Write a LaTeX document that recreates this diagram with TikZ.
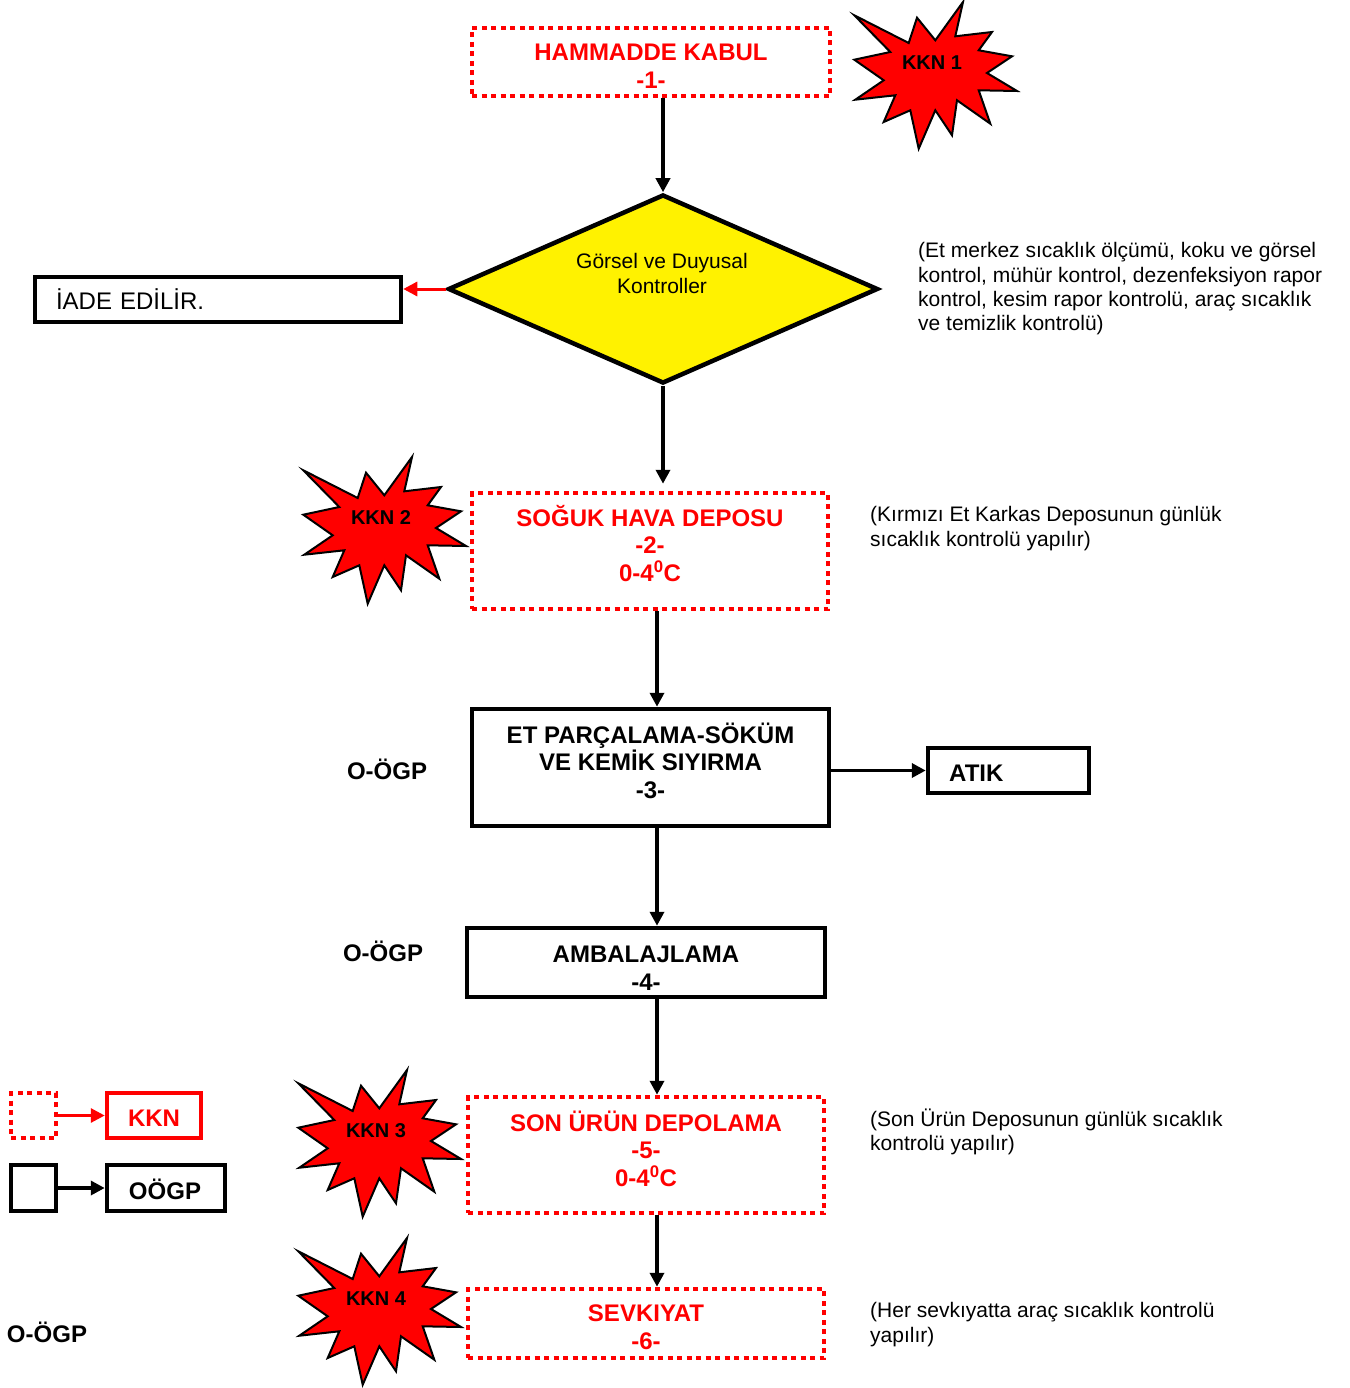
\documentclass[tikz,border=0pt]{standalone}
\usepackage{fontspec}
\setmainfont{Liberation Sans}
\usetikzlibrary{arrows.meta,shapes.geometric}
\begin{document}
\begin{tikzpicture}[x=1pt,y=-1pt,
  big/.style={font=\bfseries\fontsize{24}{27.6}\selectfont},
  redbox/.style={draw=red, line width=4.5pt, dash pattern=on 5pt off 4.5pt, inner sep=0pt},
  blackbox/.style={draw=black, line width=4.5pt, inner sep=0pt},
  redtxt/.style={text=red, big, align=center, inner sep=0pt},
  blacktxt/.style={big, align=center, inner sep=0pt},
  arr/.style={line width=3.5pt, -{Triangle[length=14pt,width=14pt]}},
  note/.style={font=\fontsize{21}{24.3}\selectfont, align=left, anchor=north west, inner sep=0pt},
  burstlbl/.style={font=\bfseries\fontsize{20}{24}\selectfont, inner sep=0pt},
  ogp/.style={big, inner sep=0pt},
  burst/.pic={\draw[fill=red, line width=2pt, line join=miter]
    (-77.7,-47.7) -- (-23.3,-20) -- (-15,-45.3) -- (3.3,-22.7) -- (31,-61) -- (23.3,-26.7)
    -- (60,-31) -- (46.7,-12.7) -- (80,-6.7) -- (55,10) -- (85,28) -- (46.7,27.3)
    -- (58.3,60.7) -- (25,37.3) -- (20,72.3) -- (3.3,47.3) -- (-13.3,85.7) -- (-21.7,47.3)
    -- (-48.3,59) -- (-36.7,32.3) -- (-76.7,36.7) -- (-48.3,17.3) -- (-77.7,-3.3) -- (-41.7,-11) -- cycle;}
]
\useasboundingbox (0,0) rectangle (1349,1388);

% step 1
\node[redbox, minimum width=358pt, minimum height=68pt] (ham) at (651,62) {};
\node[redtxt] (hamt) at (651,66.5) {HAMMADDE KABUL\\-1-};
\pic at (932,63) {burst};
\node[burstlbl] (kkn1) at (932,63) {KKN 1};

% decision
\node[diamond, draw, fill=yellow, line width=4.5pt, minimum width=430pt, minimum height=189pt, inner sep=0pt] (dia) at (663,289) {};
\node[font=\fontsize{21}{25}\selectfont, align=center, inner sep=0pt] (diatxt) at (662,273) {Görsel ve Duyusal\\Kontroller};
\draw[arr] (ham.south -| dia.north) -- (dia.north);

\node[draw, line width=4.5pt, minimum width=366pt, minimum height=45pt, inner xsep=21pt, inner ysep=0pt, text width=324pt, align=left, font=\fontsize{24}{27.6}\selectfont] (iade) at (218,299.5) {İADE EDİLİR.};
\draw[arr, red, line width=3pt] (dia.west) -- (dia.west -| iade.east);

\node[note] (note1) at (918,240.5) {\strut(Et merkez sıcaklık ölçümü, koku ve görsel\\kontrol, mühür kontrol, dezenfeksiyon rapor\\kontrol, kesim rapor kontrolü, araç sıcaklık\\ve temizlik kontrolü)};

% step 2
\node[redbox, minimum width=356pt, minimum height=116pt] (soguk) at (650,551) {};
\node[redtxt] (sogukt) at (650,543.5) {SOĞUK HAVA DEPOSU\\-2-\\0-4\textsuperscript{0}C};
\draw[arr, shorten >=7pt] (dia.south) -- (dia.south |- soguk.north);
\pic at (381,518) {burst};
\node[burstlbl] (kkn2) at (381,518) {KKN 2};
\node[note] (note2) at (870,504.5) {\strut(Kırmızı Et Karkas Deposunun günlük\\sıcaklık kontrolü yapılır)};

\coordinate (spine) at (657,0);

% step 3
\node[blackbox, minimum width=357pt, minimum height=117pt] (et) at (650.5,767.5) {};
\node[blacktxt] (ett) at (650.5,760.5) {ET PARÇALAMA-SÖKÜM\\VE KEMİK SIYIRMA\\-3-};
\draw[arr] (soguk.south -| spine) -- (et.north -| spine);
\node[ogp] (ogp1) at (387,769) {O-ÖGP};
\node[blackbox, minimum width=161pt, minimum height=45pt] (atik) at (1008.5,770.5) {};
\node[big, inner sep=0pt, anchor=west] (atikt) at (949,773) {ATIK};
\draw[arr] (atik.west -| et.east) -- (atik.west);

% step 4
\node[blackbox, minimum width=358pt, minimum height=69pt] (amb) at (646,962.5) {};
\node[blacktxt] (ambt) at (646,968) {AMBALAJLAMA\\-4-};
\draw[arr] (et.south -| spine) -- (amb.north -| spine);
\node[ogp] (ogp2) at (383,951) {O-ÖGP};

% step 5
\node[redbox, minimum width=356pt, minimum height=116pt] (son) at (646,1155) {};
\node[redtxt] (sont) at (646,1148.5) {SON ÜRÜN DEPOLAMA\\-5-\\0-4\textsuperscript{0}C};
\draw[arr] (amb.south -| spine) -- (son.north -| spine);
\pic at (376,1131) {burst};
\node[burstlbl] (kkn3) at (376,1131) {KKN 3};
\node[note] (note3) at (870,1108.5) {\strut(Son Ürün Deposunun günlük sıcaklık\\kontrolü yapılır)};

% step 6
\node[redbox, minimum width=356pt, minimum height=69pt] (sevk) at (646,1323.5) {};
\node[redtxt] (sevkt) at (646,1327.5) {SEVKIYAT\\-6-};
\draw[arr] (son.south -| spine) -- (sevk.north -| spine);
\pic at (376,1299) {burst};
\node[burstlbl] (kkn4) at (376,1299) {KKN 4};
\node[note] (note4) at (870,1300.5) {\strut(Her sevkıyatta araç sıcaklık kontrolü\\yapılır)};
\node[ogp] (ogp3) at (47,1332) {O-ÖGP};

% legend
\node[redbox, minimum size=45pt] (lk) at (33.5,1115.5) {};
\node[draw=red, line width=4.5pt, minimum width=94pt, minimum height=45pt, inner sep=0pt] (lkkn) at (154,1115.5) {};
\node[redtxt] (lkknt) at (154,1118.5) {KKN};
\draw[arr, red, line width=3pt] (lk.east) -- (lkkn.west);
\node[blackbox, minimum width=45pt, minimum height=46pt] (lo) at (33.5,1188) {};
\node[blackbox, minimum width=118pt, minimum height=46pt] (logp) at (166,1188) {};
\node[blacktxt] (logpt) at (165,1189.5) {OÖGP};
\draw[arr] (lo.east) -- (logp.west);
\end{tikzpicture}
\end{document}
